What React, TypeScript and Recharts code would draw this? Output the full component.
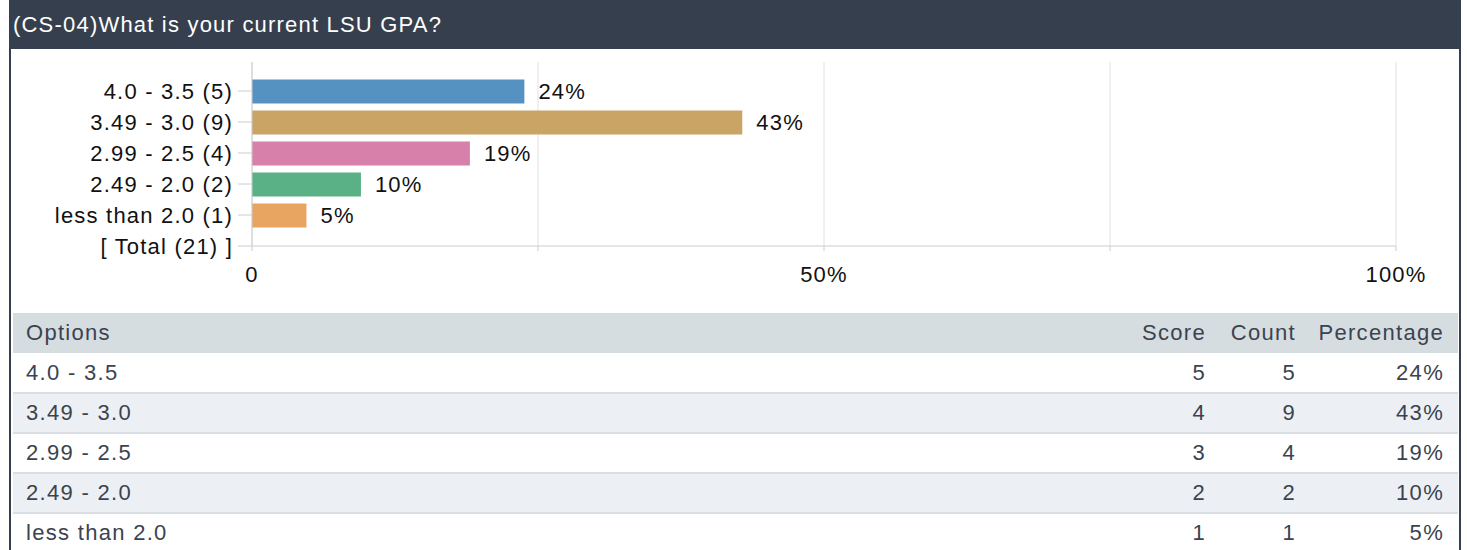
import React from 'react'
import { Bar, BarChart, CartesianGrid, Cell, LabelList, XAxis, YAxis } from 'recharts'

const title = '(CS-04)What is your current LSU GPA?'
const options = ['4.0 - 3.5', '3.49 - 3.0', '2.99 - 2.5', '2.49 - 2.0', 'less than 2.0']
const scores = [5, 4, 3, 2, 1]
const counts = [5, 9, 4, 2, 1]
const barColors = ['#5692c1', '#c9a465', '#d680aa', '#5bb186', '#e8a562']
const xTicks = [0, 25, 50, 75, 100]
const xTickLabels: Record<number, string> = { 0: '0', 25: '', 50: '50%', 75: '', 100: '100%' }

const total = counts.reduce((a, b) => a + b, 0)

const chartData = [
  ...options.map((o, i) => ({
    label: `${o} (${counts[i]})`,
    pct: (counts[i] / total) * 100,
  })),
  { label: `[ Total (${total}) ]`, pct: null as number | null },
]

const font = '"Liberation Sans", Arial, sans-serif'
const dark = '#363f4e'

const App: React.FC = () => {
  return (
    <div
      style={{
        position: 'absolute',
        left: 0,
        top: 0,
        width: 1467,
        height: 550,
        overflow: 'hidden',
        background: '#fff',
        fontFamily: font,
        letterSpacing: 1.2,
      }}
    >
      {/* header bar */}
      <div
        style={{
          position: 'absolute',
          left: 9,
          top: 0,
          width: 1452,
          height: 49,
          background: dark,
          color: '#fff',
          fontSize: 22,
          lineHeight: '50px',
          paddingLeft: 4,
          boxSizing: 'border-box',
        }}
      >
        {title}
      </div>
      <div style={{ position: 'absolute', left: 9, top: 49, width: 2, height: 501, background: dark }} />
      <div style={{ position: 'absolute', left: 1459, top: 49, width: 2, height: 501, background: dark }} />

      <div style={{ position: 'absolute', left: 0, top: 0 }}>
        <BarChart
          width={1467}
          height={300}
          data={chartData}
          layout="vertical"
          margin={{ top: 62, right: 71, bottom: 14, left: 0 }}
        >
          <CartesianGrid horizontal={false} stroke="#e2e2e2" />
          <XAxis
            type="number"
            domain={[0, 100]}
            ticks={xTicks}
            height={40}
            stroke="#cccccc"
            tickSize={5}
            tickMargin={15}
            tickFormatter={(v: number) => xTickLabels[v] ?? ''}
            tick={{ fill: '#111', fontSize: 22, fontFamily: font }}
          />
          <YAxis
            type="category"
            dataKey="label"
            width={252}
            padding={{ top: 13.5, bottom: -15.5 }}
            stroke="#cccccc"
            tickSize={14}
            tickMargin={5}
            interval={0}
            tick={{ fill: '#111', fontSize: 22, fontFamily: font }}
          />
          <Bar dataKey="pct" barSize={24} isAnimationActive={false}>
            {chartData.map((_, i) => (
              <Cell key={i} fill={barColors[i % barColors.length]} />
            ))}
            <LabelList
              dataKey="pct"
              position="right"
              offset={14}
              fill="#111"
              fontSize={22}
              fontFamily={font}
              formatter={(v: any) => (v == null ? '' : `${Math.round(v)}%`)}
            />
          </Bar>
        </BarChart>
      </div>

      {/* table */}
      <div
        style={{
          position: 'absolute',
          left: 13,
          top: 313,
          width: 1445,
          color: '#3b4350',
          fontSize: 22,
          letterSpacing: 1.3,
        }}
      >
        <div style={{ position: 'relative', height: 40, background: '#d6dde1', lineHeight: '40px' }}>
          <span style={{ position: 'absolute', left: 13 }}>Options</span>
          <span style={{ position: 'absolute', right: 252 }}>Score</span>
          <span style={{ position: 'absolute', right: 162 }}>Count</span>
          <span style={{ position: 'absolute', right: 14 }}>Percentage</span>
        </div>
        {options.map((o, i) => (
          <div
            key={o}
            style={{
              position: 'relative',
              height: i === 0 ? 39 : 38,
              lineHeight: i === 0 ? '39px' : '38px',
              borderTop: i === 0 ? 'none' : '2px solid #d8dee3',
              background: i % 2 === 1 ? '#ecf0f4' : '#fff',
            }}
          >
            <span style={{ position: 'absolute', left: 13 }}>{o}</span>
            <span style={{ position: 'absolute', right: 252 }}>{scores[i]}</span>
            <span style={{ position: 'absolute', right: 162 }}>{counts[i]}</span>
            <span style={{ position: 'absolute', right: 14 }}>{Math.round((counts[i] / total) * 100)}%</span>
          </div>
        ))}
      </div>
    </div>
  )
}

export default App
